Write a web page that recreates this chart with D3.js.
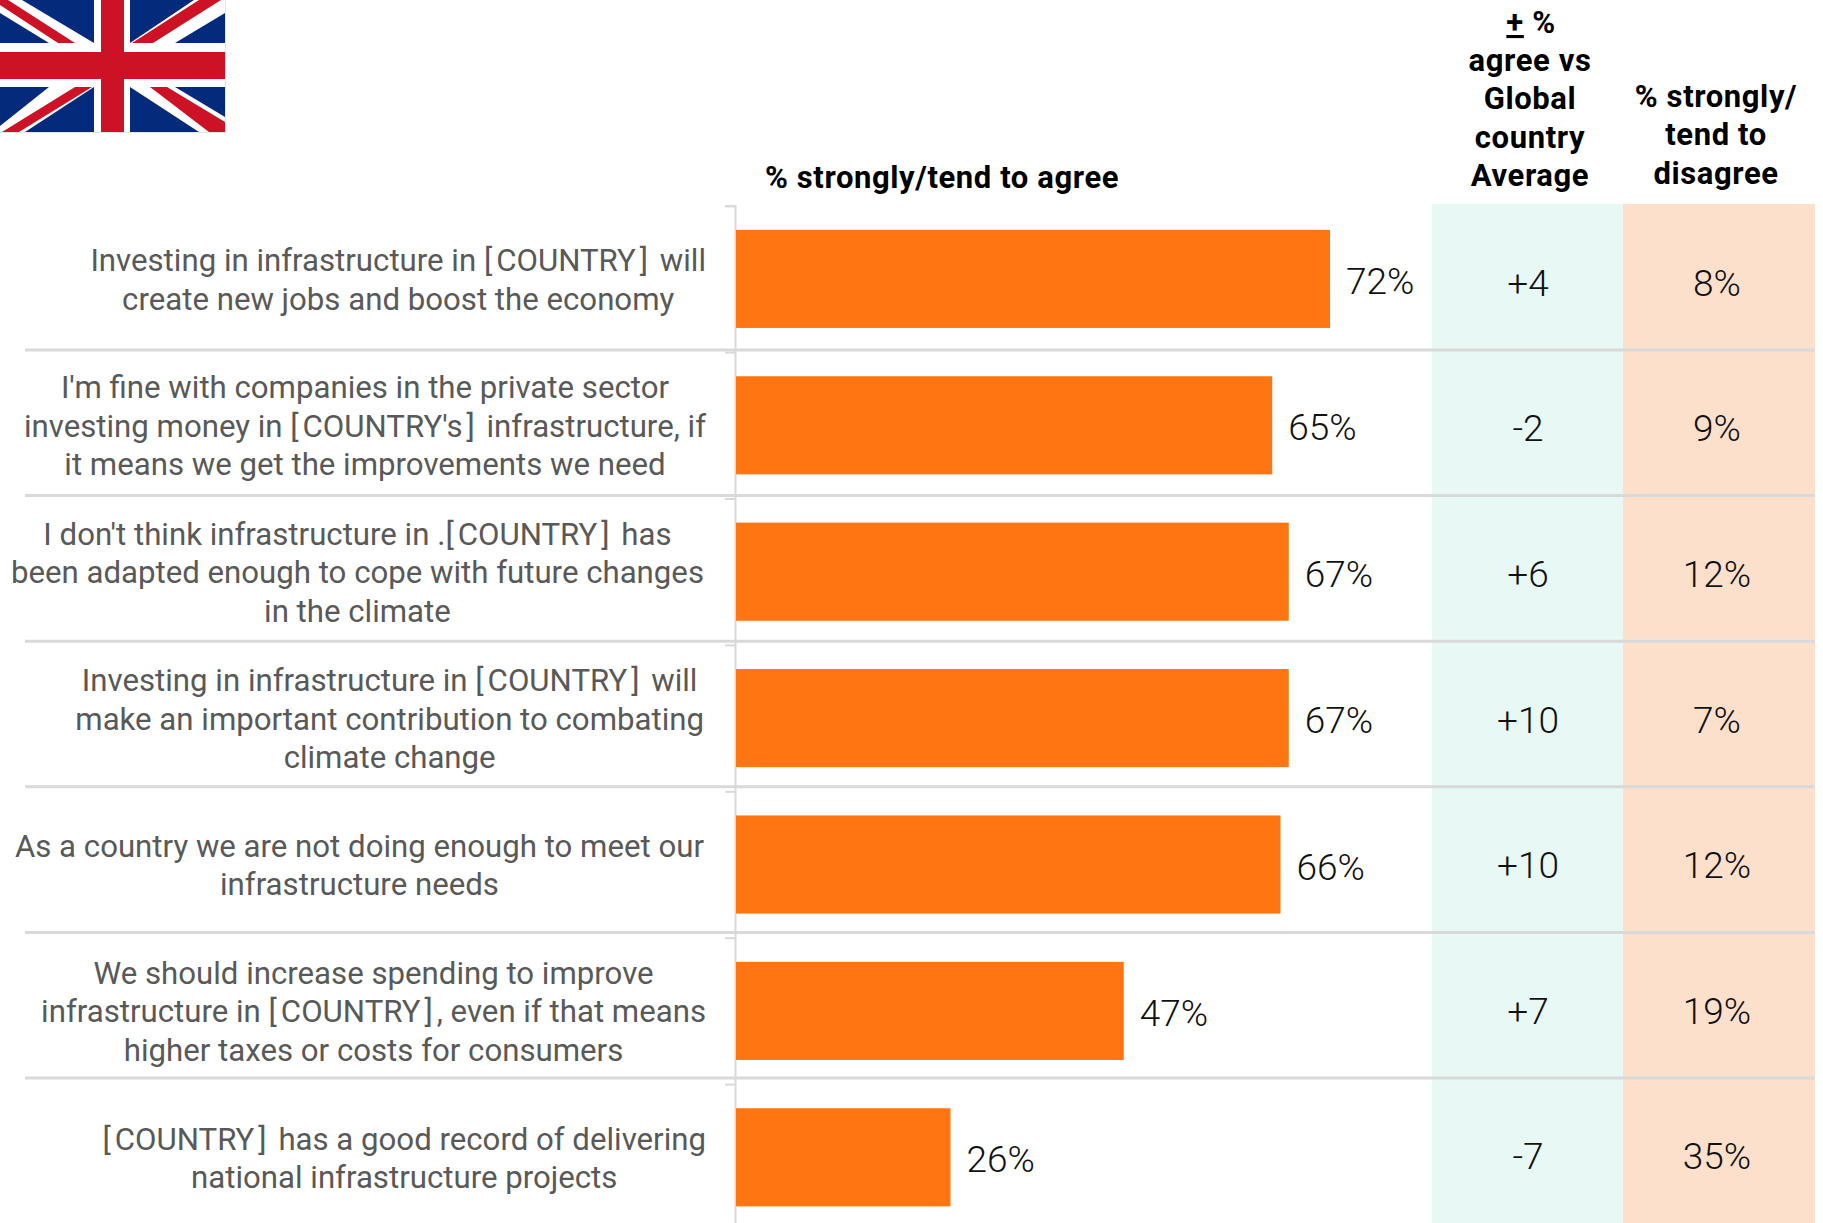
<!DOCTYPE html>
<html><head><meta charset="utf-8">
<script src="https://cdnjs.cloudflare.com/ajax/libs/d3/7.8.5/d3.min.js"></script>
<style>html,body{margin:0;padding:0;background:#fff;overflow:hidden}svg{display:block}text{font-family:Roboto,sans-serif}</style>
</head><body><script>
const categories = [
  ["Investing in infrastructure in [COUNTRY] will","create new jobs and boost the economy"],
  ["I'm fine with companies in the private sector","investing money in [COUNTRY's] infrastructure, if","it means we get the improvements we need"],
  ["I don't think infrastructure in .[COUNTRY] has","been adapted enough to cope with future changes","in the climate"],
  ["Investing in infrastructure in [COUNTRY] will","make an important contribution to combating","climate change"],
  ["As a country we are not doing enough to meet our","infrastructure needs"],
  ["We should increase spending to improve","infrastructure in [COUNTRY], even if that means","higher taxes or costs for consumers"],
  ["[COUNTRY] has a good record of delivering","national infrastructure projects"]
];
const agree = [72,65,67,67,66,47,26];
const versusGlobal = ["+4","-2","+6","+10","+10","+7","-7"];
const disagree = [8,9,12,7,12,19,35];
const headerAgree = "% strongly/tend to agree";
const headerGlobal = ["agree vs","Global","country","Average"];
const headerDisagree = ["% strongly/","tend to","disagree"];

const W=1823,H=1223;
const svg=d3.select("body").append("svg").attr("width",W).attr("height",H);
const rows=categories.map((_,i)=>i);
const x=d3.scaleLinear().domain([0,72]).range([736,1330]);
const y=d3.scaleBand().domain(rows).range([205.7,1230.5]).paddingInner(0.33).paddingOuter(0.165);
const tableY=d3.scaleLinear().domain([0,7]).range([204.4,1223.6]);
const labelSize=31.2, valueSize=37, headSize=31, headSpacing=0.6, bracketGap=4;

// panels
svg.append("rect").attr("x",1432).attr("y",204).attr("width",191).attr("height",H-204).attr("fill","#e8f8f5");
svg.append("rect").attr("x",1623).attr("y",204).attr("width",192).attr("height",H-204).attr("fill","#fde0cc");

// flag
const flag=svg.append("g");
flag.append("rect").attr("width",225).attr("height",132).attr("fill","#042a7c");
const poly=(pts,c)=>flag.append("polygon").attr("points",pts).attr("fill",c);
["94,43 49,43 0,13 0,0 22,0","130,43 175,43 225,13 225,0 194,0","49,87 94,87 25,132 0,132 0,126","130,87 175,87 225,117 225,132 199,132"].forEach(p=>poly(p,"#fff"));
["75,43 58,43 0,5 0,0 8,0","132,43 153,43 221,0 199,0","75,87 92,87 19,132 2,132","150,87 167,87 225,122 225,132 209,132"].forEach(p=>poly(p,"#cd1226"));
flag.append("rect").attr("x",94).attr("width",36).attr("height",132).attr("fill","#fff");
flag.append("rect").attr("y",43).attr("width",225).attr("height",44).attr("fill","#fff");
flag.append("rect").attr("x",101).attr("width",23).attr("height",132).attr("fill","#cd1226");
flag.append("rect").attr("y",52).attr("width",225).attr("height",27).attr("fill","#cd1226");
flag.append("path").attr("d","M0,132.5H225.5V0").attr("fill","none").attr("stroke","#e4e4e4");

// axis
const axis=d3.axisLeft(d3.scaleLinear().domain([0,7]).range([205.7,1230.5])).tickValues(d3.range(8)).tickSize(10).tickFormat("");
const ag=svg.append("g").attr("transform","translate(735,0)").call(axis);
ag.selectAll("path,line").attr("stroke","#d9d9d9").attr("stroke-width",2);

// bars
svg.selectAll("rect.bar").data(rows).join("rect").attr("class","bar")
  .attr("x",x(0)).attr("y",i=>y(i)).attr("width",i=>x(agree[i])-x(0)).attr("height",y.bandwidth()).attr("fill","#ff7511");

// separators
svg.selectAll("line.sep").data(d3.range(1,7)).join("line").attr("class","sep")
  .attr("x1",25).attr("x2",1815).attr("y1",i=>tableY(i)).attr("y2",i=>tableY(i))
  .attr("stroke","#d9d9d9").attr("stroke-width",3);

// bar labels
svg.selectAll("text.val").data(rows).join("text").attr("class","val")
  .attr("x",i=>x(agree[i])+16).attr("y",i=>y(i)+y.bandwidth()/2+15)
  .attr("font-size",valueSize).attr("font-weight",300).attr("fill","#111").text(i=>agree[i]+"%");
svg.selectAll("text.gl").data(rows).join("text").attr("class","gl")
  .attr("x",1528).attr("y",i=>tableY(i+.5)+18.5).attr("text-anchor","middle")
  .attr("font-size",valueSize).attr("font-weight",300).attr("fill","#111").text(i=>versusGlobal[i]);
svg.selectAll("text.dis").data(rows).join("text").attr("class","dis")
  .attr("x",1717).attr("y",i=>tableY(i+.5)+18.5).attr("text-anchor","middle")
  .attr("font-size",valueSize).attr("font-weight",300).attr("fill","#111").text(i=>disagree[i]+"%");

// category labels: block right aligned, lines centred; brackets are set with wider gaps
const lh=38.4, right=704;
const cat=svg.selectAll("g.cat").data(rows).join("g").attr("class","cat");
cat.each(function(i){
  const g=d3.select(this), L=categories[i];
  const cy=y(i)+y.bandwidth()/2;
  const t=g.selectAll("text").data(L).join("text")
    .attr("y",(d,k)=>cy+11.5+(k-(L.length-1)/2)*lh)
    .attr("text-anchor","middle").attr("font-size",labelSize).attr("fill","#595959");
  t.each(function(line){
    const el=d3.select(this);
    line.split(/(?=\[)|(?=\])/).forEach(part=>{
      const head=part[0];
      if(head==="["){
        el.append("tspan").attr("letter-spacing",bracketGap).text("[");
        el.append("tspan").text(part.slice(1));
      } else if(head==="]"){
        el.append("tspan").attr("dx",bracketGap).attr("letter-spacing",bracketGap).text("]");
        el.append("tspan").text(part.slice(1));
      } else el.append("tspan").text(part);
    });
  });
  const w=d3.max(t.nodes(),n=>n.getComputedTextLength());
  t.attr("x",right-w/2);
});

// headers
const hd=(g,s,xx,yy)=>svg.append("text").attr("x",xx).attr("y",yy).attr("text-anchor",g).attr("font-size",headSize).attr("font-weight",700).attr("letter-spacing",headSpacing).attr("fill","#000").text(s);
hd("start",headerAgree,765,188);
const topLine=svg.append("text").attr("x",1531).attr("y",33).attr("text-anchor","middle").attr("font-size",headSize).attr("font-weight",700).attr("letter-spacing",headSpacing).attr("fill","#000");
topLine.append("tspan").attr("text-decoration","underline").text("+");
topLine.append("tspan").text(" %");
headerGlobal.forEach((s,i)=>hd("middle",s,1530,71+i*38.3));
headerDisagree.forEach((s,i)=>hd("middle",s,1716,107+i*38.3));
</script></body></html>
